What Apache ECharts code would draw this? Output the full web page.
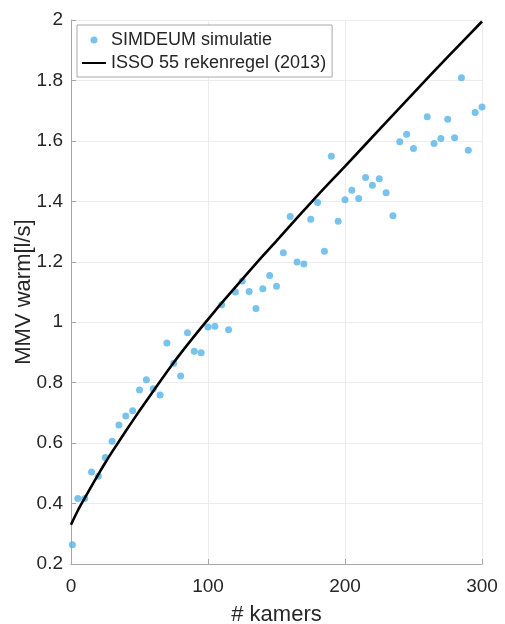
<!DOCTYPE html>
<html>
<head>
<meta charset="utf-8">
<script src="https://cdn.jsdelivr.net/npm/echarts@6/dist/echarts.min.js"></script>
<style>
html,body{margin:0;padding:0;background:#fff;}
#chart{width:505px;height:624px;}
</style>
</head>
<body>
<div id="chart"></div>
<script>
// SIMDEUM simulation points
const simX = [1,5,10,15,20,25,30,35,40,45,50,55,60,65,70,75,80,85,90,95,100,105,110,115,120,125,130,135,140,145,150,155,160,165,170,175,180,185,190,195,200,205,210,215,220,225,230,235,240,245,250,260,265,270,275,280,285,290,295,300];
const simY = [0.264,0.417,0.417,0.504,0.490,0.552,0.606,0.660,0.690,0.707,0.776,0.810,0.780,0.759,0.931,0.864,0.822,0.965,0.904,0.899,0.984,0.987,1.058,0.975,1.100,1.136,1.102,1.045,1.111,1.155,1.119,1.230,1.350,1.199,1.193,1.341,1.396,1.235,1.549,1.334,1.405,1.437,1.409,1.479,1.453,1.475,1.428,1.352,1.597,1.622,1.575,1.680,1.591,1.608,1.672,1.610,1.809,1.569,1.694,1.712];
// ISSO 55 curve
const lineX = [0,5,10,15,20,25,30,40,50,60,75,90,105,120,135,150,165,180,200,225,250,275,300];
const lineY = [0.33,0.377,0.418,0.458,0.497,0.535,0.571,0.640,0.707,0.772,0.867,0.954,1.037,1.116,1.194,1.269,1.345,1.42,1.516,1.637,1.758,1.878,1.995];
const xTicks = [0,100,200,300];
const seriesNames = ['SIMDEUM simulatie','ISSO 55 rekenregel (2013)'];
const xName = '# kamers';
const yName = 'MMV warm[l/s]';

const font = "'Liberation Sans', Arial, Helvetica, sans-serif";
const chart = echarts.init(document.getElementById('chart'), null, {renderer:'canvas'});
chart.setOption({
  backgroundColor:'#ffffff',
  animation:false,
  textStyle:{fontFamily:font},
  grid:{left:71,right:23,top:20,bottom:60,containLabel:false,outerBoundsMode:'none'},
  legend:{
    orient:'vertical', left:77, top:25,
    padding:[6,6,5,4], itemGap:5,
    itemWidth:24, itemHeight:7,
    borderColor:'#a8a8a8', borderWidth:1, backgroundColor:'#fff',
    textStyle:{fontFamily:font,fontSize:18,color:'#262626'},
    data:[
      {name:seriesNames[0],icon:'circle'},
      {name:seriesNames[1],itemStyle:{opacity:0}}
    ]
  },
  xAxis:{
    type:'value', min:xTicks[0], max:xTicks[xTicks.length-1], interval:100,
    name:xName, nameLocation:'middle', nameGap:40, nameMoveOverlap:false,
    nameTextStyle:{fontFamily:font,fontSize:22,color:'#262626'},
    axisLine:{show:true,lineStyle:{color:'#a6a6a6',width:1}},
    axisTick:{show:true,inside:true,length:5,lineStyle:{color:'#a6a6a6'}},
    axisLabel:{fontFamily:font,fontSize:19,color:'#262626',margin:13},
    splitLine:{show:true,lineStyle:{color:'#ececec',width:1}}
  },
  yAxis:{
    type:'value', min:0.2, max:2, interval:0.2,
    name:yName, nameLocation:'middle', nameGap:36, nameMoveOverlap:false,
    nameTextStyle:{fontFamily:font,fontSize:22,color:'#262626'},
    axisLine:{show:true,lineStyle:{color:'#a6a6a6',width:1}},
    axisTick:{show:true,inside:true,length:5,lineStyle:{color:'#a6a6a6'}},
    axisLabel:{fontFamily:font,fontSize:19,color:'#262626',margin:8},
    splitLine:{show:true,lineStyle:{color:'#ececec',width:1}}
  },
  series:[
    {
      name:seriesNames[0], type:'scatter', z:2,
      symbol:'circle', symbolSize:7,
      itemStyle:{color:'#56B4E9'},
      data:simX.map((x,i)=>[x,simY[i]])
    },
    {
      name:seriesNames[1], type:'line', z:3,
      smooth:0.3, symbol:'none', showSymbol:false,
      lineStyle:{color:'#000000',width:2.6},
      itemStyle:{color:'#000000'},
      data:lineX.map((x,i)=>[x,lineY[i]])
    }
  ]
});
</script>
</body>
</html>
